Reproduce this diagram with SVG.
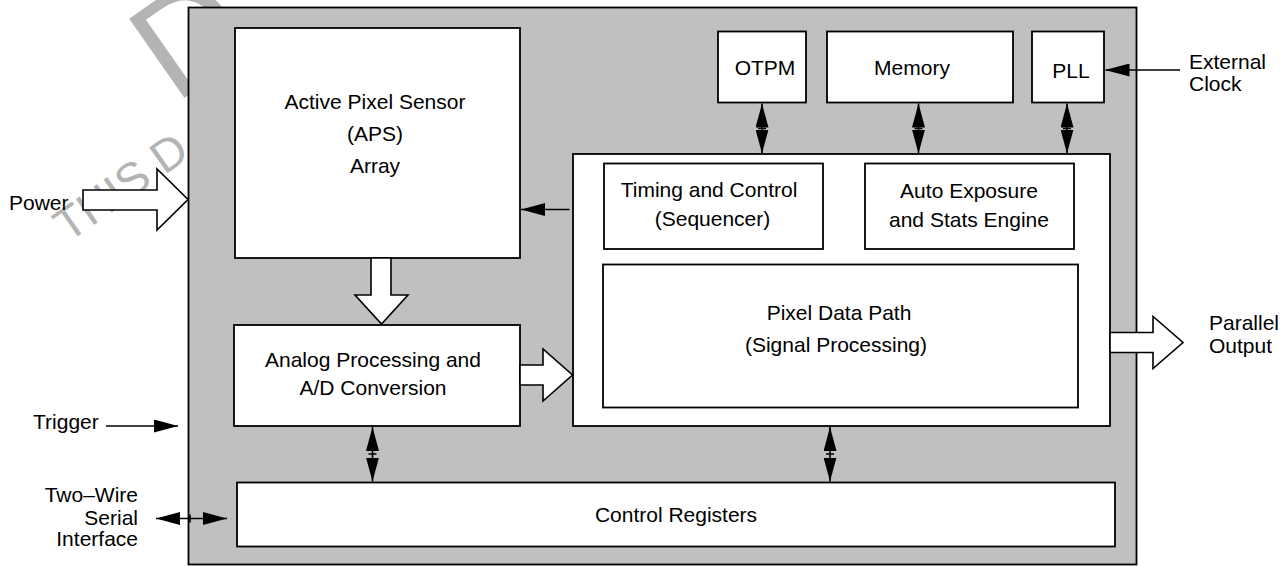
<svg xmlns="http://www.w3.org/2000/svg" width="1287" height="566" viewBox="0 0 1287 566">
  <style>
    .lbl { font-family: "Liberation Sans", Arial, sans-serif; font-size: 21px; fill: #000; }
    .mid { text-anchor: middle; }
    .end { text-anchor: end; }
    .box { fill: #fff; stroke: #000; stroke-width: 1.8; }
    .blk { fill: #fff; stroke: #000; stroke-width: 1.6; stroke-linejoin: miter; }
    .ln { fill: none; stroke: #000; stroke-width: 1.6; }
    .wm { font-family: "Liberation Sans", Arial, sans-serif; fill: #b4b4b4; }
  </style>
  <defs>
    <marker id="ah" viewBox="0 0 24 13" refX="24" refY="6.5" markerWidth="24" markerHeight="13" markerUnits="userSpaceOnUse" orient="auto-start-reverse">
      <path d="M0,0 L24,6.5 L0,13 Z" fill="#000"/>
    </marker>
  </defs>
  <rect width="1287" height="566" fill="#fff"/>

  <!-- watermark (mostly hidden behind the block) -->
  <g id="watermark">
    <text class="wm" font-size="140" transform="translate(184,98) rotate(-35)" x="-11" y="0">D</text>
    <text class="wm" font-size="46" transform="translate(68,243) rotate(-35)" x="0" y="0">THIS D</text>
  </g>

  <g id="chip">
    <rect x="188.5" y="7.5" width="948" height="557" fill="#c0c0c0" stroke="#000" stroke-width="1.8"/>
  </g>

  <g id="aps">
    <rect class="box" x="235" y="28" width="285" height="230"/>
    <text class="lbl mid" x="375" y="109">Active Pixel Sensor</text>
    <text class="lbl mid" x="375" y="141">(APS)</text>
    <text class="lbl mid" x="375" y="173">Array</text>
  </g>

  <g id="otpm">
    <rect class="box" x="718" y="31.5" width="88" height="71"/>
    <text class="lbl mid" x="765" y="75">OTPM</text>
  </g>
  <g id="memory">
    <rect class="box" x="827" y="31.5" width="186" height="71"/>
    <text class="lbl mid" x="912" y="75">Memory</text>
  </g>
  <g id="pll">
    <rect class="box" x="1032" y="31.5" width="72" height="71"/>
    <text class="lbl mid" x="1071" y="78">PLL</text>
  </g>

  <g id="core">
    <rect class="box" x="573" y="154" width="537" height="272"/>
  </g>
  <g id="timing">
    <rect class="box" x="604" y="163.5" width="219" height="85.5"/>
    <text class="lbl mid" x="709" y="197">Timing and Control</text>
    <text class="lbl mid" x="712.5" y="226">(Sequencer)</text>
  </g>
  <g id="autoexposure">
    <rect class="box" x="865" y="163.5" width="209" height="85.5"/>
    <text class="lbl mid" x="969" y="198">Auto Exposure</text>
    <text class="lbl mid" x="969" y="227">and Stats Engine</text>
  </g>
  <g id="pixeldatapath">
    <rect class="box" x="603" y="264.5" width="475" height="143"/>
    <text class="lbl mid" x="839" y="320">Pixel Data Path</text>
    <text class="lbl mid" x="836" y="352">(Signal Processing)</text>
  </g>

  <g id="analog">
    <rect class="box" x="234" y="325" width="286" height="101"/>
    <text class="lbl mid" x="373" y="366.5">Analog Processing and</text>
    <text class="lbl mid" x="373" y="395">A/D Conversion</text>
  </g>

  <g id="controlregisters">
    <rect class="box" x="237" y="482.5" width="878" height="64"/>
    <text class="lbl mid" x="676" y="522">Control Registers</text>
  </g>

  <g id="external-labels">
    <text class="lbl" x="9" y="210">Power</text>
    <text class="lbl" x="33" y="429">Trigger</text>
    <text class="lbl end" x="138" y="502">Two–Wire</text>
    <text class="lbl end" x="138" y="524.5">Serial</text>
    <text class="lbl end" x="138" y="546">Interface</text>
    <text class="lbl" x="1189" y="69">External</text>
    <text class="lbl" x="1189" y="91">Clock</text>
    <text class="lbl" x="1209" y="330">Parallel</text>
    <text class="lbl" x="1209" y="353">Output</text>
  </g>

  <g id="connectors">
    <!-- block arrows -->
    <polygon class="blk" points="83,190 157,190 157,169 188,199.5 157,230 157,210 83,210"/>
    <polygon class="blk" points="371,258 371,295 355,295 381.5,324 408,295 391,295 391,258"/>
    <polygon class="blk" points="520,365 543,365 543,349 572.5,375 543,401 543,385 520,385"/>
    <polygon class="blk" points="1110,332.5 1153,332.5 1153,316.5 1183,342.5 1153,368.5 1153,352.5 1110,352.5"/>

    <!-- single arrows -->
    <line class="ln" x1="569.5" y1="209.5" x2="521" y2="209.5" marker-end="url(#ah)"/>
    <line class="ln" x1="1180" y1="70" x2="1105.5" y2="70" marker-end="url(#ah)"/>
    <line class="ln" x1="106" y1="426" x2="178" y2="426" marker-end="url(#ah)"/>

    <!-- double arrows -->
    <line class="ln" x1="762" y1="103.5" x2="762" y2="153.5" marker-start="url(#ah)" marker-end="url(#ah)"/>
    <line class="ln" x1="918.5" y1="103.5" x2="918.5" y2="153.5" marker-start="url(#ah)" marker-end="url(#ah)"/>
    <line class="ln" x1="1067" y1="103.5" x2="1067" y2="153.5" marker-start="url(#ah)" marker-end="url(#ah)"/>
    <line class="ln" x1="372.5" y1="427" x2="372.5" y2="481.5" marker-start="url(#ah)" marker-end="url(#ah)"/>
    <line class="ln" x1="830" y1="427" x2="830" y2="481.5" marker-start="url(#ah)" marker-end="url(#ah)"/>
    <line class="ln" x1="156" y1="518.5" x2="227" y2="518.5" marker-start="url(#ah)" marker-end="url(#ah)"/>
    <path class="ln" stroke-width="1" d="M758,128.5 H766 M914.5,128.5 H922.5 M1063,128.5 H1071 M368.5,454 H376.5 M826,454 H834 M190,514.5 V522.5"/>
  </g>
</svg>
